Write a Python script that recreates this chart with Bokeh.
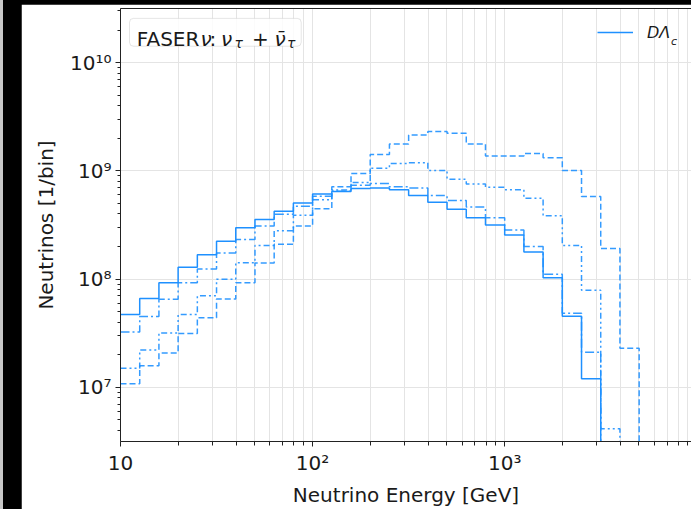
import numpy as np
from bokeh.plotting import figure
from bokeh.models import (LogAxis, FixedTicker, Legend, LegendItem, Label,
                          BoxAnnotation, Range1d, Grid)
from bokeh.layouts import column
from bokeh.embed import file_html
from bokeh.resources import INLINE

# ---------------- data ----------------
bin_edges = [10.0, 12.59, 15.85, 19.95, 25.12, 31.62, 39.81, 50.12, 63.10, 79.43,
             100.0, 125.9, 158.5, 199.5, 251.2, 316.2, 398.1, 501.2, 631.0, 794.3,
             1000.0, 1259.0, 1585.0, 1995.0, 2512.0, 3162.0, 3981.0, 5012.0]

solid_counts = [4.71e7, 6.63e7, 9.27e7, 1.29e8, 1.68e8, 2.24e8, 2.98e8, 3.55e8, 4.23e8,
                5.04e8, 6.12e8, 6.44e8, 6.86e8, 6.95e8, 6.68e8, 5.92e8, 5.14e8, 4.42e8,
                3.68e8, 3.16e8, 2.56e8, 1.78e8, 1.03e8, 4.55e7, 1.20e7, 0, 0]

dashdot_counts = [3.25e7, 4.52e7, 6.52e7, 9.27e7, 1.24e8, 1.74e8, 2.32e8, 3.09e8, 3.97e8,
                  4.70e8, 5.83e8, 6.48e8, 7.35e8, 7.66e8, 7.15e8, 6.95e8, 5.92e8, 5.33e8,
                  4.63e8, 3.68e8, 2.84e8, 2.00e8, 1.11e8, 4.84e7, 2.11e7, 0, 0]

dashdotdot_counts = [1.50e7, 2.21e7, 3.18e7, 4.71e7, 7.02e7, 9.96e7, 1.42e8, 2.05e8, 2.80e8,
                     3.89e8, 5.40e8, 6.66e8, 7.82e8, 1.06e9, 1.17e9, 1.19e9, 1.01e9, 8.39e8,
                     7.55e8, 7.05e8, 6.71e8, 5.60e8, 3.84e8, 2.05e8, 7.91e7, 4.14e6, 0]

dashed_counts = [1.08e7, 1.58e7, 2.08e7, 3.14e7, 4.40e7, 6.55e7, 9.27e7, 1.41e8, 2.10e8,
                 3.09e8, 4.47e8, 7.15e8, 9.45e8, 1.42e9, 1.77e9, 2.15e9, 2.31e9, 2.23e9,
                 1.77e9, 1.37e9, 1.37e9, 1.45e9, 1.32e9, 1.01e9, 5.80e8, 1.92e8, 2.30e7]

x_major_ticks = [10, 100, 1000]
x_tick_labels = ["10", "10\u00b2", "10\u00b3"]
y_major_ticks = [1e7, 1e8, 1e9, 1e10]
y_tick_labels = ["10\u2077", "10\u2078", "10\u2079", "10\u00b9\u2070"]

x_label = "Neutrino Energy [GeV]"
y_label = "Neutrinos [1/bin]"
legend_label = "D\u039b"

# ---------------- styling ----------------
BLUE = "#1E90FF"
FONT = "DejaVu Sans"
TXT = "#1a1a1a"
GRID = "#e4e4e4"

X_START, X_END = 10.0, 9387.0
Y_START, Y_END = 10 ** 6.5, 10 ** 10.5
FLOOR = Y_START / 10.0


def step_path(edges, counts):
    nz = [i for i, v in enumerate(counts) if v > 0]
    last = nz[-1]
    xs, ys = [], []
    for i in range(last + 1):
        xs += [edges[i], edges[i + 1]]
        ys += [counts[i], counts[i]]
    xs.append(edges[last + 1])
    ys.append(FLOOR)
    return xs, ys


p = figure(width=670, height=505, x_axis_type="log", y_axis_type="log",
           x_range=Range1d(X_START, X_END), y_range=Range1d(Y_START, Y_END),
           output_backend="svg", toolbar_location=None,
           min_border_left=99, min_border_right=0, min_border_top=4, min_border_bottom=61)
p.outline_line_color = None
p.background_fill_color = "white"
p.border_fill_color = "white"
p.margin = (4, 0, 0, 21)
# drop the default grids; explicit ones are added below
p.center = [c for c in p.center if not isinstance(c, Grid)]

x_minor = [k * 10 ** n for n in (1, 2, 3) for k in range(2, 10)]
y_minor = [k * 10 ** n for n in (6, 7, 8, 9, 10) for k in range(2, 10)]
x_ticker = FixedTicker(ticks=x_major_ticks, minor_ticks=x_minor)
y_ticker = FixedTicker(ticks=y_major_ticks, minor_ticks=y_minor)

xa = p.xaxis[0]
ya = p.yaxis[0]
xa.ticker = x_ticker
ya.ticker = y_ticker
xa.major_label_overrides = {t: l for t, l in zip(x_major_ticks, x_tick_labels)}
ya.major_label_overrides = {t: l for t, l in zip(y_major_ticks, y_tick_labels)}

for ax in (xa, ya):
    ax.axis_line_color = "#222222"
    ax.axis_line_width = 1
    ax.major_tick_line_color = "#222222"
    ax.minor_tick_line_color = "#222222"
    ax.major_tick_in = 0
    ax.minor_tick_in = 0
    ax.major_label_text_font = FONT
    ax.major_label_text_font_size = "20px"
    ax.major_label_text_color = TXT
    ax.axis_label_text_font = FONT
    ax.axis_label_text_font_size = "20px"
    ax.axis_label_text_font_style = "normal"
    ax.axis_label_text_color = TXT

xa.major_tick_out = 5
xa.minor_tick_out = 4
ya.major_tick_out = 5
ya.minor_tick_out = 3
xa.major_label_standoff = 4
ya.major_label_standoff = 4
xa.axis_label = x_label
ya.axis_label = y_label
xa.axis_label_standoff = 5
ya.axis_label_standoff = 9

top_axis = LogAxis(ticker=FixedTicker(ticks=[]), major_tick_out=0, minor_tick_out=0,
                   major_tick_in=0, minor_tick_in=0, major_label_standoff=0,
                   major_label_text_font_size="0px", axis_line_color="#222222")
p.add_layout(top_axis, "above")

# grids: vertical at major and minor x ticks, horizontal at major y ticks only
p.add_layout(Grid(dimension=0, ticker=x_ticker, grid_line_color=GRID,
                  minor_grid_line_color=GRID))
p.add_layout(Grid(dimension=1, ticker=FixedTicker(ticks=y_major_ticks),
                  grid_line_color=GRID, minor_grid_line_color=None))

series = [
    (dashed_counts, "6 3", 0.9),
    (dashdotdot_counts, "6 3 2 3 2 3", 0.9),
    (dashdot_counts, "9 3 2 3", 0.9),
    (solid_counts, "solid", 1.0),
]
renderers = []
for counts, dash, alpha in series:
    xs, ys = step_path(bin_edges, counts)
    r = p.line(xs, ys, line_color=BLUE, line_width=1.5, line_dash=dash, line_alpha=alpha)
    renderers.append(r)
solid_r = renderers[-1]

# info box
box = BoxAnnotation(left=11.14, right=87.25, bottom=1.417e10, top=2.564e10,
                    fill_color="white", fill_alpha=0.85, line_color="#a8a8a8",
                    line_width=1, border_radius=4)
p.add_layout(box)


def lab(text, dx, dy, size, style="normal"):
    p.add_layout(Label(x=X_START, y=Y_END, x_offset=dx, y_offset=-dy, text=text,
                       text_font=FONT, text_font_size=size, text_font_style=style,
                       text_color=TXT, text_baseline="alphabetic", text_align="left"))


lab("FASER", 16.3, 30.5, "20px")
lab("\u03bd", 80.0, 30.5, "20px", "italic")
lab(":", 89.0, 30.5, "20px")
lab("\u03bd", 100.5, 30.5, "20px", "italic")
lab("\u03c4", 114.0, 34.5, "14px", "italic")
lab("+", 131.5, 30.5, "20px")
lab("\u03bd\u0304", 154.0, 30.5, "20px", "italic")
lab("\u03c4", 166.5, 34.5, "14px", "italic")

legend = Legend(items=[LegendItem(label=legend_label, renderers=[solid_r])],
                location=(477, 399), border_line_color=None, background_fill_alpha=0,
                glyph_width=36, glyph_height=20, label_standoff=14, padding=8, margin=0,
                spacing=0, label_text_font=FONT, label_text_font_style="italic",
                label_text_font_size="16px", label_text_color=TXT)
p.add_layout(legend)
lab("c", 550.5, 33.0, "11px", "italic")

layout = column(p, styles={"background": "linear-gradient(to right, #c8c8c8 0px, #c8c8c8 3px, #000000 3px)"})

open("out.html", "w").write(file_html(layout, INLINE))
